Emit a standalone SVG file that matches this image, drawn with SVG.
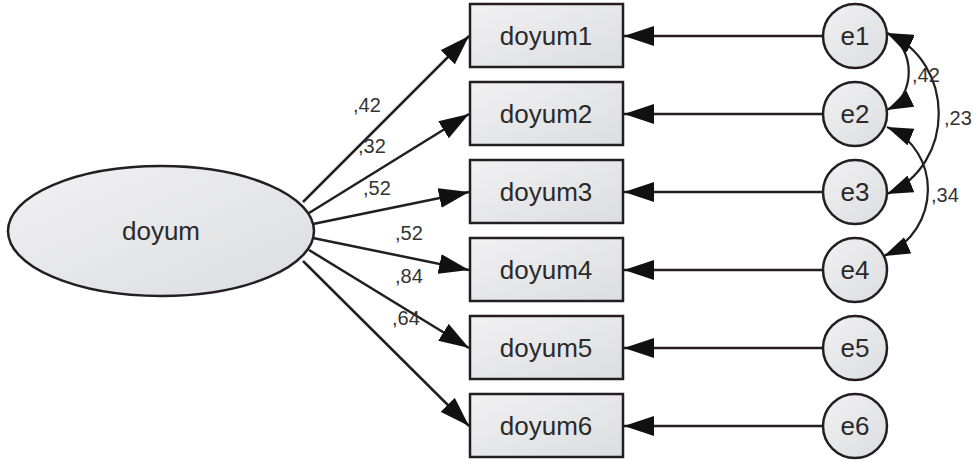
<svg xmlns="http://www.w3.org/2000/svg" width="973" height="462" viewBox="0 0 973 462">
<defs>
<linearGradient id="g" x1="0" y1="0" x2="1" y2="1">
<stop offset="0" stop-color="#f1f1f2"/>
<stop offset="1" stop-color="#dcdde0"/>
</linearGradient>
<marker id="ah" markerUnits="userSpaceOnUse" markerWidth="30" markerHeight="20" viewBox="0 0 30 20" refX="30" refY="10" orient="auto">
<path d="M0,0 L30,10 L0,20 z" fill="#111"/>
</marker>
<marker id="ch" markerUnits="userSpaceOnUse" markerWidth="26" markerHeight="18" viewBox="0 0 26 18" refX="26" refY="9" orient="auto-start-reverse">
<path d="M0,0 L26,9 L0,18 z" fill="#111"/>
</marker>
</defs>
<style>
.box{fill:url(#g);stroke:#231f20;stroke-width:2.5}
.lbl{font-family:"Liberation Sans",Arial,sans-serif;font-size:26px;fill:#2a2a2a;text-anchor:middle}
.w{font-family:"Liberation Sans",Arial,sans-serif;font-size:20px;fill:#333}
.ln{stroke:#231f20;stroke-width:2.5;fill:none;marker-end:url(#ah)}
.cv{stroke:#231f20;stroke-width:2.2;fill:none;marker-start:url(#ch);marker-end:url(#ch)}
</style>
<g id="connectors">
<line class="ln" x1="303" y1="202" x2="469" y2="36"/>
<line class="ln" x1="309" y1="213" x2="469" y2="114"/>
<line class="ln" x1="313" y1="224" x2="469" y2="192"/>
<line class="ln" x1="313" y1="238" x2="469" y2="270"/>
<line class="ln" x1="309" y1="250" x2="469" y2="348"/>
<line class="ln" x1="303" y1="261" x2="469" y2="426"/>
<line class="ln" x1="823" y1="36" x2="624" y2="36"/>
<line class="ln" x1="823" y1="114" x2="624" y2="114"/>
<line class="ln" x1="823" y1="192" x2="624" y2="192"/>
<line class="ln" x1="823" y1="270" x2="624" y2="270"/>
<line class="ln" x1="823" y1="348" x2="624" y2="348"/>
<line class="ln" x1="823" y1="426" x2="624" y2="426"/>
<path class="cv" d="M887,33 C916,48 916,96 887,110"/>
<path class="cv" d="M887,33 C956,62 956,165 887,194"/>
<path class="cv" d="M887,127 C942,150 942,230 884,256"/>
<text class="w" x="353" y="112">,42</text>
<text class="w" x="358" y="153">,32</text>
<text class="w" x="363" y="195">,52</text>
<text class="w" x="395" y="240">,52</text>
<text class="w" x="395" y="283">,84</text>
<text class="w" x="392" y="325">,64</text>
<text class="w" x="912" y="82">,42</text>
<text class="w" x="944" y="125">,23</text>
<text class="w" x="931" y="202">,34</text>
</g>
<g id="doyum"><ellipse class="box" cx="161" cy="231" rx="153" ry="65"/><text class="lbl" x="161" y="240">doyum</text></g>
<g id="doyum1"><rect class="box" x="470" y="4" width="153" height="63"/><text class="lbl" x="546" y="45">doyum1</text></g>
<g id="doyum2"><rect class="box" x="470" y="82" width="153" height="63"/><text class="lbl" x="546" y="123">doyum2</text></g>
<g id="doyum3"><rect class="box" x="470" y="160" width="153" height="63"/><text class="lbl" x="546" y="201">doyum3</text></g>
<g id="doyum4"><rect class="box" x="470" y="238" width="153" height="63"/><text class="lbl" x="546" y="279">doyum4</text></g>
<g id="doyum5"><rect class="box" x="470" y="316" width="153" height="63"/><text class="lbl" x="546" y="357">doyum5</text></g>
<g id="doyum6"><rect class="box" x="470" y="394" width="153" height="63"/><text class="lbl" x="546" y="435">doyum6</text></g>
<g id="e1"><circle class="box" cx="855" cy="36" r="32"/><text class="lbl" x="855" y="45">e1</text></g>
<g id="e2"><circle class="box" cx="855" cy="114" r="32"/><text class="lbl" x="855" y="123">e2</text></g>
<g id="e3"><circle class="box" cx="855" cy="192" r="32"/><text class="lbl" x="855" y="201">e3</text></g>
<g id="e4"><circle class="box" cx="855" cy="270" r="32"/><text class="lbl" x="855" y="279">e4</text></g>
<g id="e5"><circle class="box" cx="855" cy="348" r="32"/><text class="lbl" x="855" y="357">e5</text></g>
<g id="e6"><circle class="box" cx="855" cy="426" r="32"/><text class="lbl" x="855" y="435">e6</text></g>
</svg>
